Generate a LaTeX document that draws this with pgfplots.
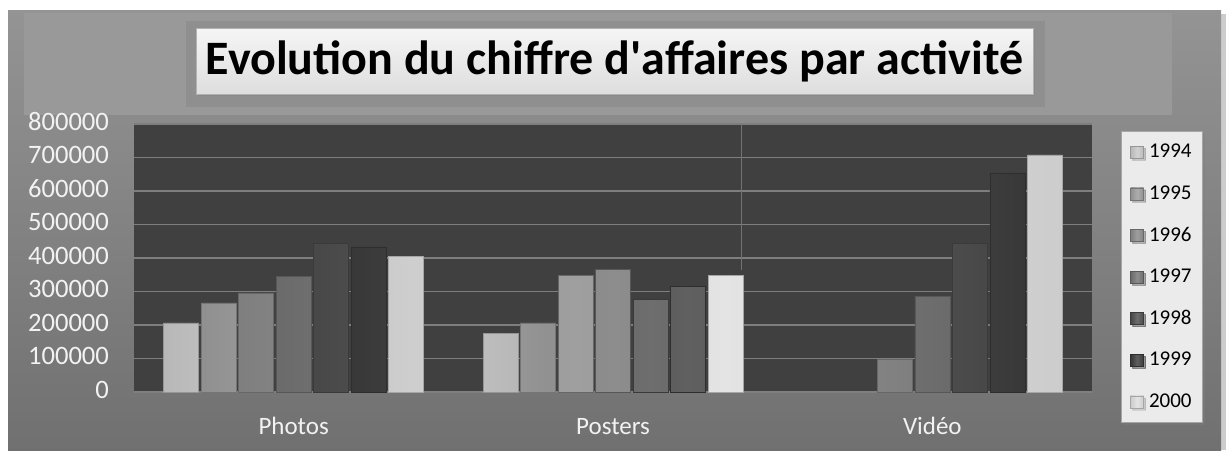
\documentclass[border=0pt]{standalone}
\usepackage{fontspec}
\setmainfont{Carlito}
\usepackage{pgfplots}
\pgfplotsset{compat=1.18}
\usetikzlibrary{shadows}

\definecolor{c94}{HTML}{C8C8C8}
\definecolor{c95}{HTML}{9C9C9C}
\definecolor{c96}{HTML}{8A8A8A}
\definecolor{c97}{HTML}{747474}
\definecolor{c98}{HTML}{4E4E4E}
\definecolor{c99}{HTML}{3D3D3D}
\definecolor{c00}{HTML}{DEDEDE}
\definecolor{plotbg}{HTML}{404040}
\definecolor{gridc}{HTML}{7E7E7E}
\definecolor{ticktxt}{HTML}{F2F2F2}

\pgfplotsset{
  bevel/.style={draw=#1!75!black, line width=0.3pt,
    left color=#1!92!black, right color=#1!92!black, middle color=#1!82!white},
}

\begin{document}
\begin{tikzpicture}
  % page frame and backgrounds, drawn in pixel units of the reference
  \begin{scope}[x=0.5pt, y=-0.5pt]
    \useasboundingbox (0,0) rectangle (1226,450);
    \fill[white] (0,0) rectangle (1226,450);
    \fill[black!20] (12,14) rectangle (1226,450);
    \shade[top color=black!42, bottom color=black!56] (8,10) rectangle (1221,450);
    \fill[black!40] (24,13) rectangle (1172,115);
    \fill[black!44] (186,21) rectangle (1045,107);
    \node[draw=black!30, line width=0.4pt, top color=black!4, bottom color=black!13,
          drop shadow={opacity=0.35, shadow xshift=1pt, shadow yshift=-1pt},
          minimum width=418.5pt, minimum height=33pt, inner sep=0pt,
          font=\fontsize{24}{28}\selectfont\bfseries]
      at (614.5,61) {Evolution du chiffre d\textquotesingle affaires par activité};
  \end{scope}

  \begin{axis}[
    at={(67pt,-196pt)}, anchor=south west,
    scale only axis, width=479pt, height=134pt,
    xmin=-0.5, xmax=2.5, ymin=0, ymax=800000,
    ybar=1.25pt, bar width=17.5pt,
    xtick={0,1,2}, xticklabels={Photos,Posters,Vidéo},
    typeset ticklabels with strut,
    ytick={0,100000,...,800000},
    scaled y ticks=false,
    yticklabel style={/pgf/number format/fixed, /pgf/number format/1000 sep={},
      /pgf/number format/assume math mode=true,
      font=\fontsize{13.3}{15}\selectfont, text=ticktxt, xshift=-9pt},
    xticklabel style={font=\fontsize{12.5}{14}\selectfont, text=ticktxt, yshift=-8pt},
    major tick length=0pt,
    ymajorgrids, grid style={draw=gridc, line width=0.7pt},
    axis background/.style={fill=plotbg},
    separate axis lines,
    axis x line*=bottom, axis y line*=left,
    x axis line style={draw=black!50, line width=0.8pt, -},
    y axis line style={draw=none},
    legend style={at={(1,1)}, anchor=north west, xshift=14.5pt, yshift=-3.5pt,
      fill=black!8, draw=black!35, line width=0.4pt,
      drop shadow={opacity=0.35, shadow xshift=1pt, shadow yshift=-1pt},
      font=\fontsize{10.5}{12}\selectfont, text=black,
      nodes={inner sep=1pt, minimum height=20.8pt},
      column sep=1.5pt,
      row sep=0pt, inner xsep=4.5pt, inner ysep=0pt},
    legend cell align=left,
    legend image code/.code={\draw[#1, line width=0.3pt] (0pt,-3pt) rectangle (6.5pt,3pt);},
  ]
    \addplot[bevel=c94] coordinates {(0,206000) (1,176000)};
    \addplot[bevel=c95] coordinates {(0,266000) (1,206000)};
    \addplot[bevel=c96] coordinates {(0,296000) (1,348000) (2,97000)};
    \addplot[bevel=c97] coordinates {(0,345000) (1,367000) (2,286000)};
    \addplot[bevel=c98] coordinates {(0,443000) (1,276000) (2,443000)};
    \addplot[bevel=c99] coordinates {(0,433000) (1,315000) (2,654000)};
    \addplot[bevel=c00] coordinates {(0,406000) (1,348000) (2,708000)};
    \legend{1994,1995,1996,1997,1998,1999,2000}
    \draw[black!55, line width=0.4pt] (axis cs:1.403,800000) -- (axis cs:1.403,364000);
  \end{axis}
\end{tikzpicture}
\end{document}
